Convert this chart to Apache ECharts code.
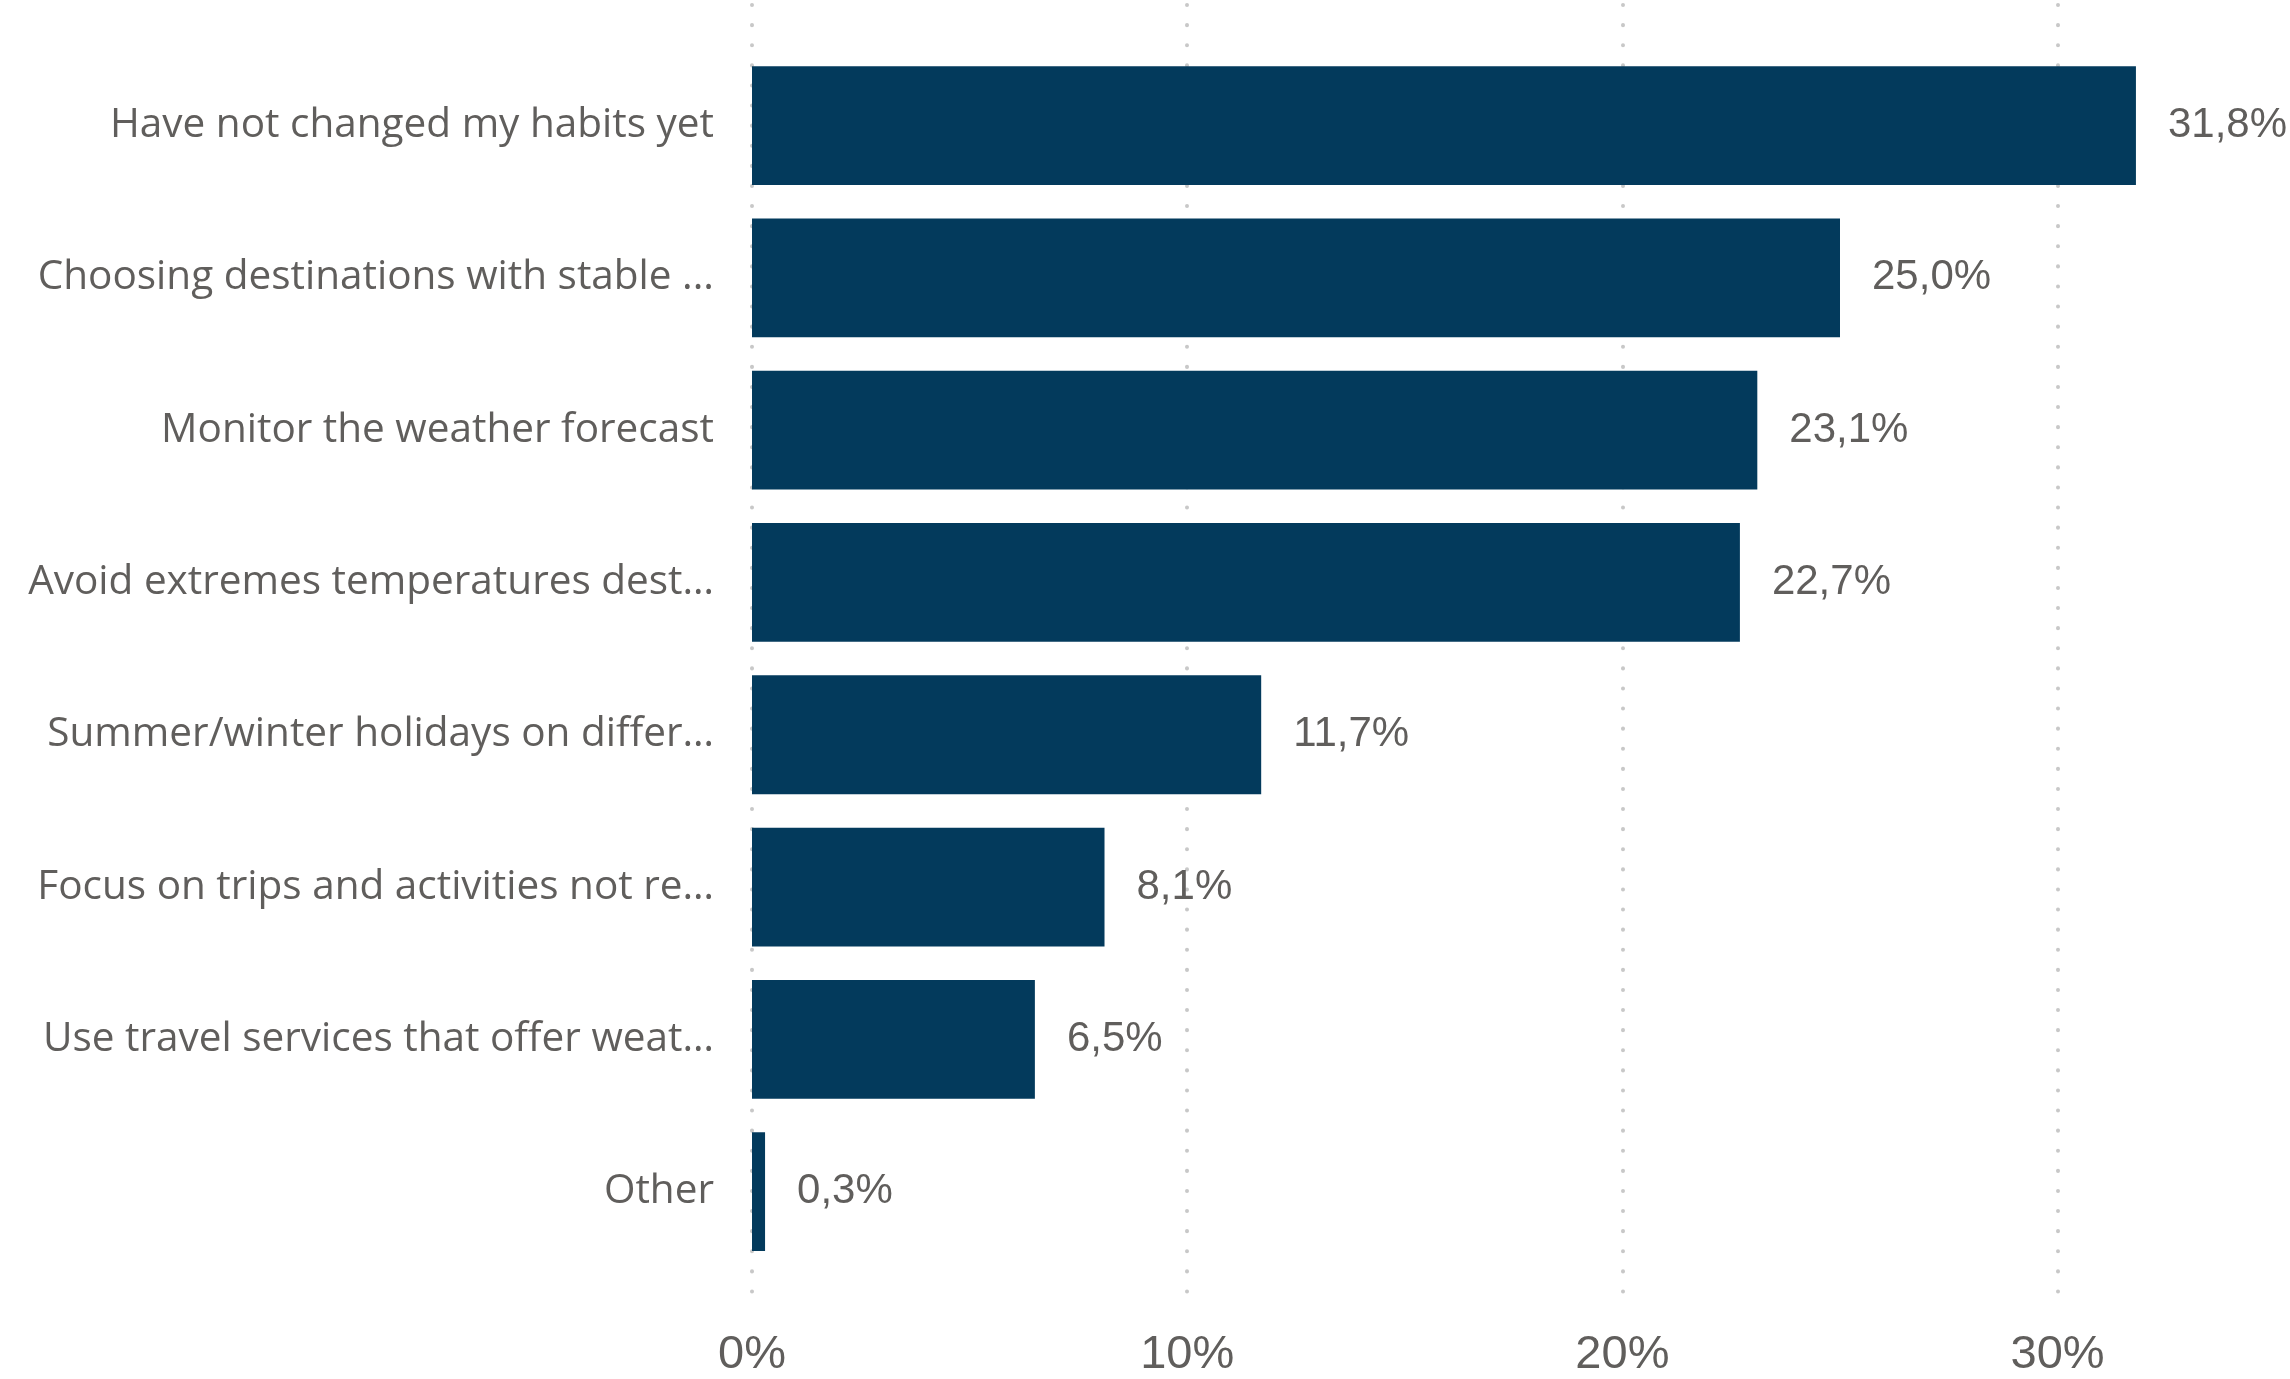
<!DOCTYPE html>
<html>
<head>
<meta charset="utf-8">
<script src="https://cdn.jsdelivr.net/npm/echarts@6/dist/echarts.min.js"></script>
<style>html,body{margin:0;padding:0;background:#fff}#c{width:2290px;height:1379px}</style>
</head>
<body>
<div id="c"></div>
<script>
const categories = [
  "Have not changed my habits yet",
  "Choosing destinations with stable ...",
  "Monitor the weather forecast",
  "Avoid extremes temperatures dest…",
  "Summer/winter holidays on differ…",
  "Focus on trips and activities not re…",
  "Use travel services that offer weat…",
  "Other"
];
const values = [31.8, 25.0, 23.1, 22.7, 11.7, 8.1, 6.5, 0.3];
const tickValues = [0, 10, 20, 30];

const chart = echarts.init(document.getElementById('c'), null, {renderer: 'canvas'});
const X0 = 752, PX_PER_PCT = 43.52, XMAX = 35;
chart.setOption({
  animation: false,
  backgroundColor: '#ffffff',
  grid: [
    {left: X0, top: 49.4, width: XMAX * PX_PER_PCT, height: 1218.4, containLabel: false},
    {left: X0, top: 5, width: XMAX * PX_PER_PCT, height: 1310, containLabel: false}
  ],
  xAxis: [
    {gridIndex: 0, type: 'value', min: 0, max: XMAX, interval: 10, show: false, splitLine: {show: false}},
    {gridIndex: 1, type: 'value', min: 0, max: XMAX, interval: 10,
     axisLine: {show: false}, axisTick: {show: false},
     axisLabel: {margin: 22, fontFamily: 'Liberation Sans, Arial', fontSize: 47, color: '#605E5C',
       showMaxLabel: false,
       formatter: v => tickValues.includes(v) ? v + '%' : ''},
     splitLine: {show: true, showMaxLine: false, lineStyle: {color: '#C8C8C8', width: 4, type: [0.1, 20], cap: 'round'}}}
  ],
  yAxis: [
    {gridIndex: 0, type: 'category', data: categories, inverse: true,
     axisLine: {show: false}, axisTick: {show: false},
     axisLabel: {margin: 38, fontFamily: 'Open Sans, Noto Sans, sans-serif', fontSize: 40.5, color: '#605E5C',
       padding: [6, 0, 0, 0]}},
    {gridIndex: 1, type: 'value', show: false, min: 0, max: 1}
  ],
  series: [
    {type: 'bar', xAxisIndex: 0, yAxisIndex: 0, data: values, barCategoryGap: '22%', z: 3,
     itemStyle: {color: '#033A5C'},
     label: {show: true, position: 'right', distance: 32, fontFamily: 'Liberation Sans, Arial', fontSize: 42,
       color: '#605E5C', padding: [5, 0, 0, 0],
       formatter: p => p.value.toFixed(1).replace('.', ',') + '%'}},
    {type: 'line', xAxisIndex: 1, yAxisIndex: 1, data: [], silent: true}
  ]
});
</script>
</body>
</html>
